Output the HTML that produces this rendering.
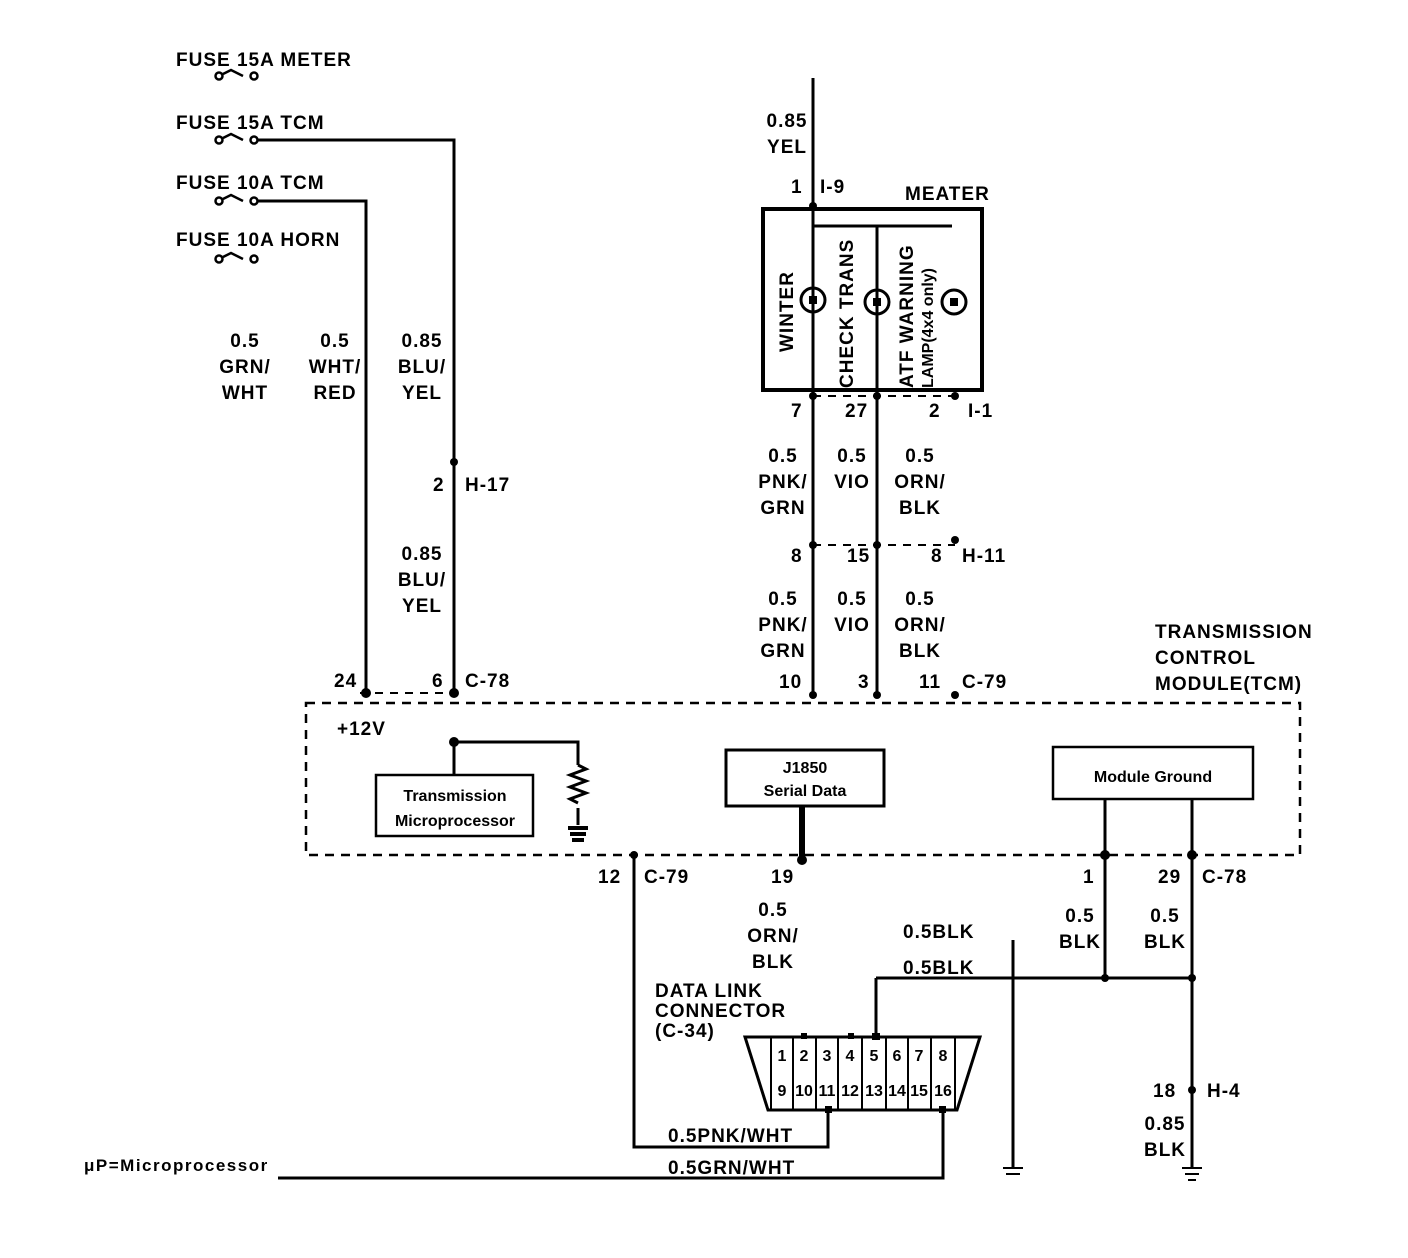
<!DOCTYPE html>
<html><head><meta charset="utf-8"><style>
html,body{margin:0;padding:0;background:#fff;}
svg{display:block;}
text{font-family:"Liberation Sans",sans-serif;font-weight:bold;font-size:19px;fill:#000;letter-spacing:1px;}
.s{font-size:16px;letter-spacing:0;}
.u{font-size:17px;letter-spacing:1.5px;}
</style></head><body>
<svg width="1408" height="1258" viewBox="0 0 1408 1258" xmlns="http://www.w3.org/2000/svg">
<g stroke="#000" stroke-width="3" fill="none">
<g stroke-width="2.5">
<circle cx="219" cy="76" r="3.5"/><path d="M223 74 l8 -4 l12 6"/><circle cx="254" cy="76" r="3.5"/>
<circle cx="219" cy="140" r="3.5"/><path d="M223 138 l8 -4 l12 6"/><circle cx="254" cy="140" r="3.5"/>
<circle cx="219" cy="201" r="3.5"/><path d="M223 199 l8 -4 l12 6"/><circle cx="254" cy="201" r="3.5"/>
<circle cx="219" cy="259" r="3.5"/><path d="M223 257 l8 -4 l12 6"/><circle cx="254" cy="259" r="3.5"/>
</g>
<path d="M258 140 H454 V695"/>
<path d="M258 201 H366 V693"/>
<path d="M813 78 V695"/>
<rect x="763" y="209" width="219" height="181" stroke-width="4"/>
<path d="M813 226 H952 M877 226 V695"/>
<circle cx="813" cy="300" r="12" stroke-width="3"/>
<circle cx="877" cy="302" r="12" stroke-width="3"/>
<circle cx="954" cy="302" r="12" stroke-width="3"/>
<path d="M813 396 H955 M813 545 H955" stroke-dasharray="8 7" stroke-width="2"/>
<rect x="306" y="703" width="994" height="152" stroke-dasharray="9 7" stroke-width="2.5"/>
<path d="M360 693 H454" stroke-dasharray="8 7" stroke-width="2"/>
<path d="M454 742 H578 V765 M578 808 V825"/>
<path d="M578 765 l8 4 l-16 6 l16 6 l-16 6 l16 6 l-16 6 l8 4" stroke-width="3"/>
<path d="M568 828 H588 M570 834 H586 M572 840 H584" stroke-width="4"/>
<path d="M454 742 V775"/>
<rect x="376" y="775" width="157" height="61" stroke-width="2.5"/>
<rect x="726" y="750" width="158" height="56" stroke-width="3"/>
<path d="M802 806 V862" stroke-width="6"/>
<rect x="1053" y="747" width="200" height="52" stroke-width="2.5"/>
<path d="M1105 799 V978 M1192 799 V1168 M876 978 H1192 M876 978 V1037"/>
<path d="M1013 940 V1168"/>
<path d="M1003 1168 H1023 M1006 1174 H1020" stroke-width="2"/>
<path d="M1182 1168 H1202 M1185 1174 H1199 M1188 1180 H1196" stroke-width="2"/>
<path d="M634 855 V1147 H828 V1110"/>
<path d="M278 1178 H943 V1110"/>
<path d="M745 1037 H980 L957 1110 H768 Z" stroke-width="3"/>
<path d="M771 1037 V1110 M793 1037 V1110 M816 1037 V1110 M838 1037 V1110 M862 1037 V1110 M886 1037 V1110 M908 1037 V1110 M931 1037 V1110 M955 1037 V1110" stroke-width="2"/>
</g>
<g fill="#000">
<path d="M809 296 h8 v8 h-8z M873 298 h8 v8 h-8z M950 298 h8 v8 h-8z"/>
<circle cx="454" cy="742" r="5"/><circle cx="366" cy="693" r="5"/><circle cx="454" cy="693" r="5"/>
<circle cx="813" cy="206" r="4"/><circle cx="813" cy="396" r="4"/><circle cx="877" cy="396" r="4"/><circle cx="955" cy="396" r="4"/>
<circle cx="813" cy="545" r="4"/><circle cx="877" cy="545" r="4"/><circle cx="955" cy="540" r="4"/><circle cx="454" cy="462" r="4"/>
<circle cx="813" cy="695" r="4"/><circle cx="877" cy="695" r="4"/><circle cx="955" cy="695" r="4"/>
<circle cx="1105" cy="855" r="5"/><circle cx="1192" cy="855" r="5"/><circle cx="634" cy="855" r="4"/><circle cx="802" cy="860" r="5"/>
<circle cx="1105" cy="978" r="4"/><circle cx="1192" cy="978" r="4"/><circle cx="1192" cy="1090" r="4"/>
<rect x="872" y="1033" width="8" height="7"/><rect x="801" y="1033" width="6" height="6"/><rect x="848" y="1033" width="6" height="6"/>
<rect x="825" y="1106" width="7" height="7"/><rect x="939" y="1106" width="7" height="7"/>
</g>
<text x="176" y="66">FUSE 15A METER</text>
<text x="176" y="129">FUSE 15A TCM</text>
<text x="176" y="189">FUSE 10A TCM</text>
<text x="176" y="246">FUSE 10A HORN</text>
<g text-anchor="middle">
<text x="245" y="347">0.5</text><text x="245" y="373">GRN/</text><text x="245" y="399">WHT</text>
<text x="335" y="347">0.5</text><text x="335" y="373">WHT/</text><text x="335" y="399">RED</text>
<text x="422" y="347">0.85</text><text x="422" y="373">BLU/</text><text x="422" y="399">YEL</text>
<text x="422" y="560">0.85</text><text x="422" y="586">BLU/</text><text x="422" y="612">YEL</text>
<text x="787" y="127">0.85</text><text x="787" y="153">YEL</text>
<text x="783" y="462">0.5</text><text x="783" y="488">PNK/</text><text x="783" y="514">GRN</text>
<text x="852" y="462">0.5</text><text x="852" y="488">VIO</text>
<text x="920" y="462">0.5</text><text x="920" y="488">ORN/</text><text x="920" y="514">BLK</text>
<text x="783" y="605">0.5</text><text x="783" y="631">PNK/</text><text x="783" y="657">GRN</text>
<text x="852" y="605">0.5</text><text x="852" y="631">VIO</text>
<text x="920" y="605">0.5</text><text x="920" y="631">ORN/</text><text x="920" y="657">BLK</text>
<text x="773" y="916">0.5</text><text x="773" y="942">ORN/</text><text x="773" y="968">BLK</text>
<text x="1080" y="922">0.5</text><text x="1080" y="948">BLK</text>
<text x="1165" y="922">0.5</text><text x="1165" y="948">BLK</text>
<text x="1165" y="1130">0.85</text><text x="1165" y="1156">BLK</text>
<text class="s" x="455" y="801">Transmission</text><text class="s" x="455" y="826">Microprocessor</text>
<text class="s" x="805" y="773">J1850</text><text class="s" x="805" y="796">Serial Data</text>
<text class="s" x="1153" y="782">Module Ground</text>
</g>
<text x="433" y="491">2</text><text x="465" y="491">H-17</text>
<text x="334" y="687">24</text><text x="432" y="687">6</text><text x="465" y="687">C-78</text>
<text x="791" y="193">1</text><text x="820" y="193">I-9</text>
<text x="905" y="200">MEATER</text>
<text x="791" y="417">7</text><text x="845" y="417">27</text><text x="929" y="417">2</text><text x="968" y="417">I-1</text>
<text x="791" y="562">8</text><text x="847" y="562">15</text><text x="931" y="562">8</text><text x="962" y="562">H-11</text>
<text x="779" y="688">10</text><text x="858" y="688">3</text><text x="919" y="688">11</text><text x="962" y="688">C-79</text>
<text x="1155" y="638">TRANSMISSION</text><text x="1155" y="664">CONTROL</text><text x="1155" y="690">MODULE(TCM)</text>
<text x="337" y="735">+12V</text>
<text x="598" y="883">12</text><text x="644" y="883">C-79</text>
<text x="771" y="883">19</text>
<text x="1083" y="883">1</text><text x="1158" y="883">29</text><text x="1202" y="883">C-78</text>
<text x="903" y="938">0.5BLK</text><text x="903" y="974">0.5BLK</text>
<text x="655" y="997">DATA LINK</text><text x="655" y="1017">CONNECTOR</text><text x="655" y="1037">(C-34)</text>
<text x="1153" y="1097">18</text><text x="1207" y="1097">H-4</text>
<text x="668" y="1142">0.5PNK/WHT</text><text x="668" y="1174">0.5GRN/WHT</text>
<text class="u" x="84" y="1171">μP=Microprocessor</text>
<g text-anchor="middle">
<text class="s" x="782" y="1061">1</text><text class="s" x="804" y="1061">2</text><text class="s" x="827" y="1061">3</text><text class="s" x="850" y="1061">4</text><text class="s" x="874" y="1061">5</text><text class="s" x="897" y="1061">6</text><text class="s" x="919" y="1061">7</text><text class="s" x="943" y="1061">8</text>
<text class="s" x="782" y="1096">9</text><text class="s" x="804" y="1096">10</text><text class="s" x="827" y="1096">11</text><text class="s" x="850" y="1096">12</text><text class="s" x="874" y="1096">13</text><text class="s" x="897" y="1096">14</text><text class="s" x="919" y="1096">15</text><text class="s" x="943" y="1096">16</text>
</g>
<text transform="translate(793,352) rotate(-90)">WINTER</text>
<text transform="translate(853,388) rotate(-90)">CHECK TRANS</text>
<text transform="translate(913,388) rotate(-90)">ATF WARNING</text>
<text class="s" transform="translate(933,388) rotate(-90)">LAMP(4x4 only)</text>
</svg>
</body></html>
